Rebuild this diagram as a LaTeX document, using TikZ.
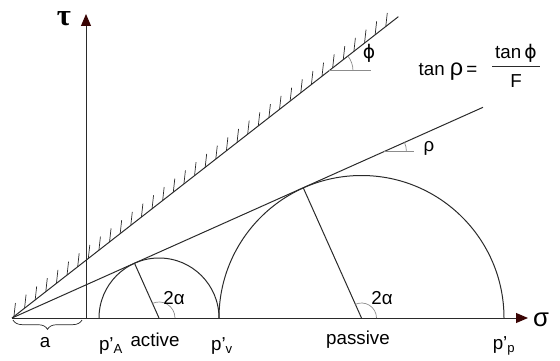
\documentclass[tikz,border=0pt]{standalone}
\usepackage{fontspec}
\setmainfont{Liberation Sans}
\newfontfamily\symfont{DejaVu Sans}
\newfontfamily\serifgr{Liberation Serif}
\usetikzlibrary{arrows.meta,calc,decorations.pathreplacing}
\definecolor{linec}{HTML}{2A2A2A}
\definecolor{arrowc}{HTML}{3A0505}
\definecolor{markc}{HTML}{8C8C8C}
\begin{document}
\begin{tikzpicture}[x=0.03cm,y=0.03cm, line width=0.85pt,
  font=\fontsize{16}{19}\selectfont,
  axisline/.style={draw=linec, -{Triangle[length=3.6mm,width=3mm,fill=arrowc,color=arrowc]}},
  ln/.style={draw=linec},
  hatch/.style={draw=linec, line width=0.6pt},
  anglemk/.style={draw=markc, line width=0.6pt},
  lbl/.style={inner sep=1pt}]
\useasboundingbox (0,0) rectangle (560,360);
% key points
\coordinate (O) at (12,42);
\coordinate (Tbot) at (86,42);
\coordinate (Ttop) at (86,346);
\coordinate (Send) at (528,42);
\coordinate (U) at ($(O)+(37.95:490)$);
\coordinate (L) at ($(O)+(24.1:516)$);
\coordinate (C1) at (159,42);
\coordinate (C2) at (361.5,42);
% axes
\draw[axisline] (O) -- (Send);
\draw[axisline] (Tbot) -- (Ttop);
% envelope lines
\draw[ln] (O) -- (U);
\draw[ln] (O) -- (L);
% hatching on upper line
\foreach \i in {0,...,35}
  \draw[hatch] ($(O)!{0.005+0.0275*\i}!(U)$) -- ++(1.5,13.5);
% Mohr circles
\draw[ln] ($(C1)+(60,0)$) arc[start angle=0,end angle=180,radius=60];
\draw[ln] ($(C2)+(142.5,0)$) arc[start angle=0,end angle=180,radius=142.5];
\draw[ln] (C1) -- ++(114.1:60);
\draw[ln] (C2) -- ++(114.1:142.5);
% angle marks 2alpha
\draw[anglemk] ($(C1)+(16,0)$) arc[start angle=0,end angle=114.1,radius=16];
\draw[anglemk] ($(C2)+(15,0)$) arc[start angle=0,end angle=114.1,radius=15];
% phi mark
\coordinate (Pphi) at ($(O)+(37.95:402)$);
\draw[anglemk] (Pphi) -- ++(42,0);
\draw[anglemk] ($(Pphi)+(24,0)$) arc[start angle=0,end angle=37.95,radius=24];
% rho mark
\coordinate (Prho) at ($(O)+(24.1:408)$);
\draw[anglemk] (Prho) -- ++(30,0);
\draw[anglemk] ($(Prho)+(22,0)$) arc[start angle=0,end angle=24.1,radius=22];
% brace
\draw[decorate,decoration={brace,mirror,amplitude=8pt}, draw=linec, line width=0.6pt] (13,40) -- (82,40);
% labels
\node[lbl] (tau) at (64,341) {\serifgr\bfseries\fontsize{26}{26}\selectfont τ};
\node[lbl] (sigma) at (541,40) {\fontsize{22}{22}\selectfont σ};
\node[lbl] (phi) at (369,307) {\symfont ϕ};
\node[lbl] (rho) at (429,212) {ρ};
\node[lbl] (eq) at (448,288) {tan {\fontsize{20}{20}\selectfont ρ}\,=};
\node[lbl] (num) at (516,307) {tan\,{\symfont ϕ}};
\node[lbl] (den) at (516,279) {F};
\coordinate (barL) at (492,293);
\coordinate (barR) at (540,293);
\draw[ln] (barL) -- (barR);
\node[lbl] (twoa1) at (174,62) {2α};
\node[lbl] (twoa2) at (382,62) {2α};
\node[lbl] (a) at (45,17) {a};
\node[lbl] (pA) at (111,14) {p'\textsubscript{A}};
\node[lbl] (act) at (155,20) {active};
\node[lbl] (pv) at (222,14) {p'\textsubscript{v}};
\node[lbl] (pas) at (358,20) {passive};
\node[lbl] (pp) at (504,14) {p'\textsubscript{p}};
\end{tikzpicture}
\end{document}
